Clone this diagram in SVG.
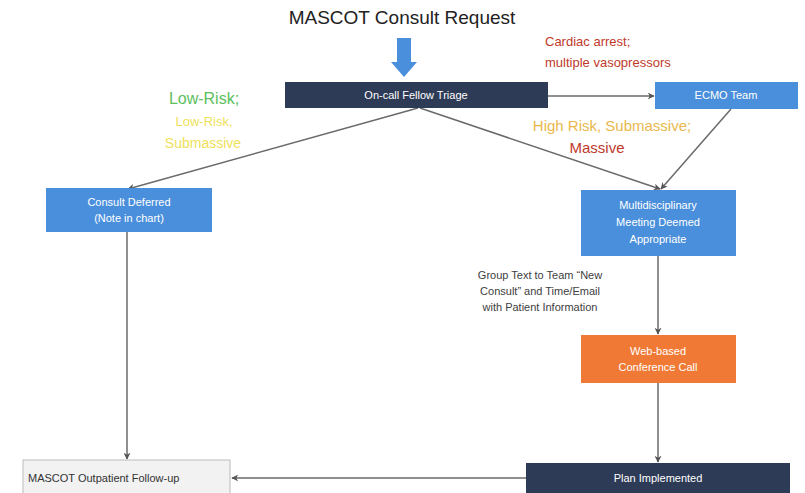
<svg xmlns="http://www.w3.org/2000/svg" width="805" height="493" viewBox="0 0 805 493">
<defs>
<marker id="ah" viewBox="0 0 10 10" refX="9" refY="5" markerWidth="7" markerHeight="7" orient="auto" markerUnits="userSpaceOnUse">
<path d="M0,0 L10,5 L0,10 L3,5 z" fill="#555"/>
</marker>
<style>
text{font-family:"Liberation Sans","Open Sans",Arial,sans-serif;}
.conn{stroke:#6a6a6a;stroke-width:1.5;fill:none;marker-end:url(#ah);}
.navy{fill:#2e3b57;}
.blue{fill:#4a8fdb;}
.orange{fill:#f07a35;}
.wt{fill:#ffffff;font-size:11px;text-anchor:middle;}
.lbl{font-size:11px;text-anchor:middle;fill:#404040;}
</style>
</defs>
<rect width="805" height="493" fill="#ffffff"/>
<text x="402" y="24" font-size="19" text-anchor="middle" fill="#222">MASCOT Consult Request</text>
<g id="down-arrow">
<path d="M397,38 L411,38 L411,62 L417,62 L404,77 L391,62 L397,62 z" fill="#4a8fdb"/>
</g>
<g id="connectors">
<line class="conn" x1="548" y1="96" x2="654" y2="96"/>
<line class="conn" x1="420" y1="108" x2="660" y2="189"/>
<line class="conn" x1="731" y1="109" x2="661" y2="189"/>
<line class="conn" x1="418" y1="108" x2="128" y2="189"/>
<line class="conn" x1="127" y1="232" x2="127" y2="459"/>
<line class="conn" x1="658" y1="256" x2="658" y2="334"/>
<line class="conn" x1="658" y1="383" x2="658" y2="462"/>
<line class="conn" x1="526" y1="478" x2="232" y2="478"/>
</g>
<g id="triage">
<rect class="navy" x="285" y="82" width="263" height="26"/>
<text class="wt" x="416" y="99">On-call Fellow Triage</text>
</g>
<g id="ecmo">
<rect class="blue" x="655" y="82" width="143" height="27"/>
<text class="wt" x="726" y="99">ECMO Team</text>
</g>
<g id="cardiac-label">
<text x="545" y="46" font-size="13" fill="#c0392b">Cardiac arrest;</text>
<text x="545" y="67" font-size="13" fill="#c0392b">multiple vasopressors</text>
</g>
<g id="high-risk-label">
<text x="612" y="131" font-size="15" text-anchor="middle" fill="#e9b84c">High Risk, Submassive;</text>
<text x="597" y="153" font-size="15" text-anchor="middle" fill="#c0392b">Massive</text>
</g>
<g id="low-risk-label">
<text x="204" y="104" font-size="16" text-anchor="middle" fill="#5cc05c">Low-Risk;</text>
<text x="204" y="126" font-size="13" text-anchor="middle" fill="#efdf5a">Low-Risk,</text>
<text x="203" y="148" font-size="14" text-anchor="middle" fill="#efdf5a">Submassive</text>
</g>
<g id="deferred">
<rect class="blue" x="46" y="188" width="166" height="44"/>
<text class="wt" x="129" y="206">Consult Deferred</text>
<text class="wt" x="129" y="222">(Note in chart)</text>
</g>
<g id="multidisciplinary">
<rect class="blue" x="581" y="190" width="155" height="66"/>
<text class="wt" x="658" y="209">Multidisciplinary</text>
<text class="wt" x="658" y="226">Meeting Deemed</text>
<text class="wt" x="658" y="243">Appropriate</text>
</g>
<g id="group-text-label">
<text class="lbl" x="540" y="279">Group Text to Team “New</text>
<text class="lbl" x="540" y="295">Consult” and Time/Email</text>
<text class="lbl" x="540" y="311">with Patient Information</text>
</g>
<g id="conference">
<rect class="orange" x="581" y="335" width="155" height="48"/>
<text class="wt" x="658" y="355">Web-based</text>
<text class="wt" x="658" y="371">Conference Call</text>
</g>
<g id="outpatient">
<rect x="23" y="460" width="207" height="40" fill="#f2f2f2" stroke="#bbbbbb" stroke-width="1"/>
<text x="28" y="482" font-size="11" fill="#333">MASCOT Outpatient Follow-up</text>
</g>
<g id="plan">
<rect class="navy" x="526" y="463" width="264" height="35"/>
<text class="wt" x="658" y="482">Plan Implemented</text>
</g>
</svg>
